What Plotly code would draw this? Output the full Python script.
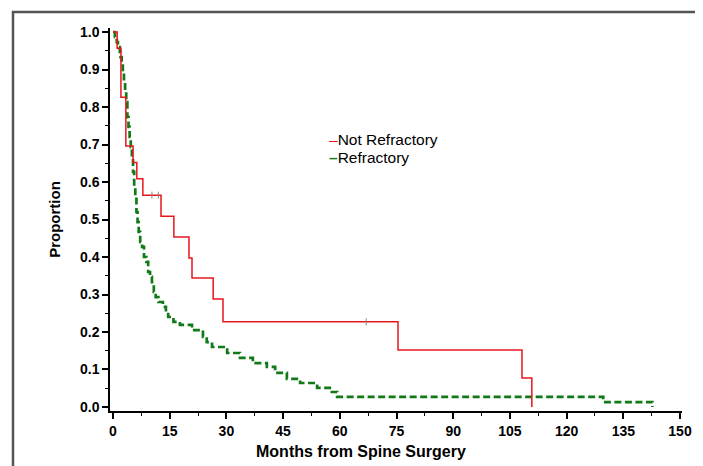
import plotly.graph_objects as go

# Not Refractory (KM step points: month, proportion)
nr_months = [0, 1.1, 2.1, 3.4, 5.3, 6.3, 7.9, 12.7, 16.1, 20.1, 20.9, 26.5, 29.1, 75.4, 108.2, 110.8]
nr_surv = [1.0, 0.957, 0.826, 0.696, 0.652, 0.609, 0.565, 0.509, 0.453, 0.397, 0.344, 0.288, 0.227, 0.152, 0.077, 0.0]
nr_cens_months = [10.3, 12.0, 67.0]
nr_cens_surv = [0.565, 0.565, 0.227]

# Refractory
r_months = [0, 0.5, 1.0, 1.3, 1.8, 2.0, 2.3, 2.6, 2.9, 3.2, 3.5, 3.8, 4.1, 4.4, 4.7, 5.0, 5.3, 5.6,
            5.9, 6.2, 6.5, 6.8, 7.2, 7.7, 8.2, 8.8, 9.3, 9.8, 10.3, 10.8, 11.3, 12.0, 13.2, 14.0,
            14.6, 16.0, 17.7, 20.9, 23.8, 24.8, 26.2, 30.2, 33.6, 37.0, 40.7, 42.9, 46.0, 49.5,
            54.0, 57.9, 59.3, 129.7, 142.6, 142.7]
r_surv = [1.0, 0.987, 0.973, 0.96, 0.947, 0.933, 0.92, 0.893, 0.867, 0.84, 0.813, 0.773, 0.747, 0.72,
          0.693, 0.667, 0.627, 0.587, 0.56, 0.52, 0.493, 0.467, 0.44, 0.427, 0.40, 0.387, 0.36, 0.347,
          0.333, 0.307, 0.293, 0.28, 0.267, 0.253, 0.24, 0.227, 0.219, 0.205, 0.187, 0.173, 0.160,
          0.144, 0.131, 0.117, 0.107, 0.091, 0.075, 0.064, 0.051, 0.040, 0.027, 0.013, 0.013, 0.0]

x_ticks = list(range(0, 151, 15))
y_ticks = [i / 10 for i in range(11)]
y_tick_labels = [f"{v:.1f}" for v in y_ticks]

RED = "#e8161c"
GREEN = "#117a17"
FONT = "Liberation Sans, Arial, sans-serif"

fig = go.Figure()
fig.add_trace(go.Scatter(x=r_months, y=r_surv, mode="lines", line_shape="hv",
                         line=dict(color=GREEN, width=2.7, dash="7px,3.5px"), name="Refractory"))
fig.add_trace(go.Scatter(x=nr_months, y=nr_surv, mode="lines", line_shape="hv",
                         line=dict(color=RED, width=1.5), name="Not Refractory"))
fig.add_trace(go.Scatter(x=nr_cens_months, y=nr_cens_surv, mode="markers",
                         marker=dict(symbol="line-ns", size=5, line=dict(color="#888", width=1)),
                         showlegend=False))

# page body has an 8px margin: figure sits at (8, 8)
fig.update_layout(
    width=695, height=458,
    margin=dict(l=102, r=21, t=20, b=55),
    plot_bgcolor="white", paper_bgcolor="white",
    showlegend=False,
    font=dict(family=FONT, color="black", size=13),
)
fig.update_xaxes(
    range=[-0.794, 150.53], tickvals=x_ticks, ticktext=[str(v) for v in x_ticks],
    showline=True, linecolor="black", linewidth=1.5, showgrid=False, zeroline=False,
    ticks="outside", ticklen=6, tickwidth=1.5, tickcolor="black",
    minor=dict(dtick=7.5, tick0=0, ticks="outside", ticklen=3, tickwidth=1.2, tickcolor="black"),
    tickfont=dict(family=FONT, size=14, weight="bold"),
)
fig.update_yaxes(
    range=[-0.0107, 1.0107], tickvals=y_ticks, ticktext=y_tick_labels,
    showline=True, linecolor="black", linewidth=1.5, showgrid=False, zeroline=False,
    ticks="outside", ticklen=6, tickwidth=1.5, tickcolor="black",
    minor=dict(dtick=0.05, tick0=0, ticks="outside", ticklen=3, tickwidth=1.2, tickcolor="black"),
    tickfont=dict(family=FONT, size=14, weight="bold"),
    title=dict(text="Proportion", font=dict(family=FONT, size=15, weight="bold"), standoff=16),
)

# x-axis title (placed left of centre, as in the original)
fig.add_annotation(xref="paper", yref="paper", x=0.439, y=-0.107, xanchor="center", yanchor="middle",
                   text="<b>Months from Spine Surgery</b>", showarrow=False,
                   font=dict(family=FONT, size=16, color="black"))

# legend text
fig.add_annotation(xref="paper", yref="paper", x=0.379, y=0.7076, xanchor="left", yanchor="middle",
                   text=f"<span style='color:{RED}'>–</span>Not Refractory", showarrow=False,
                   font=dict(family=FONT, size=15.5, color="black"))
fig.add_annotation(xref="paper", yref="paper", x=0.379, y=0.6606, xanchor="left", yanchor="middle",
                   text=f"<span style='color:{GREEN}'><b>–</b></span>Refractory", showarrow=False,
                   font=dict(family=FONT, size=15.5, color="black"))

# outer frame
fig.add_shape(type="rect", xref="paper", yref="paper", x0=-0.1696, x1=1.5, y0=-1.0, y1=1.0418,
              line=dict(color="#555555", width=2.5), layer="below")

fig.write_html("out.html")
